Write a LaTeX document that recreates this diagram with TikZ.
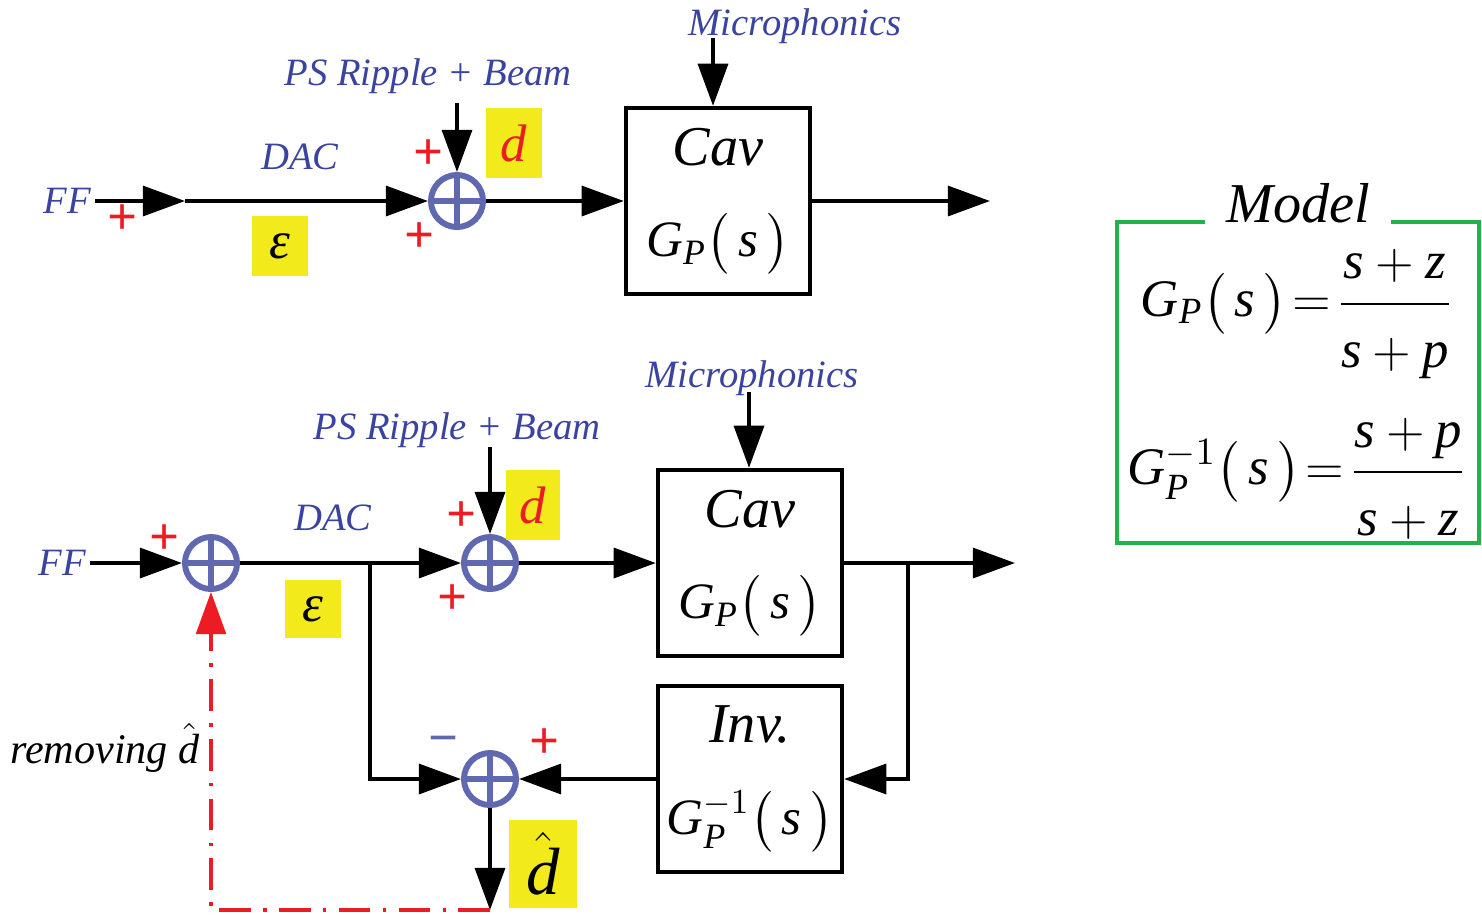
\documentclass[tikz,border=0pt]{standalone}
\usepackage{amsmath}
\usepackage{fontspec}
\setmainfont{Liberation Serif}
\usetikzlibrary{arrows.meta, positioning, calc}
\definecolor{ctrlBlue}{HTML}{3A449E}
\definecolor{ctrlSum}{HTML}{6068B0}
\definecolor{ctrlRed}{HTML}{ED1C24}
\definecolor{ctrlYellow}{HTML}{F2EA1A}
\definecolor{ctrlGreen}{HTML}{22B24C}

\newcommand{\Gp}{\textit{G}_{\textit{P}}}
\newcommand{\GpInv}{\textit{G}_{\textit{P}}^{-1}}
\newcommand{\ofs}{\bigl(\,\textit{s}\,\bigr)}
\newcommand{\boxeq}{\fontsize{14.5}{17}\selectfont}

\begin{document}
\begin{tikzpicture}[
        x=0.01cm, y=-0.01cm,
        sumjunction/.style={
            circle,
            draw=ctrlSum,
            line width=1.7pt,
            minimum size=0.52cm,
            inner sep=0pt,
            path picture={
                \draw[ctrlSum, line width=1.7pt]
                    (path picture bounding box.north) -- (path picture bounding box.south)
                    (path picture bounding box.west) -- (path picture bounding box.east);
            }
        },
        plantbox/.style={
            draw,
            line width=1.2pt,
            minimum width=1.84cm,
            minimum height=1.86cm,
            inner xsep=1pt,
            align=center,
            font=\fontsize{16}{18}\selectfont
        },
        wire/.style={line width=1.1pt},
        signal/.style={
            wire,
            -{Triangle[length=12pt,width=8.5pt]}
        },
        feedback/.style={
            draw=ctrlRed,
            line width=0.9pt,
            dash pattern=on 9pt off 3.5pt on 1pt off 3.5pt,
            -{Triangle[length=12pt,width=8.5pt,fill=ctrlRed]}
        },
        sigtag/.style={
            fill=ctrlYellow,
            inner sep=0pt,
            font=\fontsize{15}{15}\selectfont
        },
        bluelabel/.style={
            text=ctrlBlue,
            inner sep=1pt,
            font=\fontsize{11}{13}\selectfont\itshape
        },
        signmark/.style={
            text=ctrlRed,
            inner sep=0pt,
            font=\fontsize{15}{15}\selectfont\bfseries
        },
        modeleq/.style={
            font=\fontsize{15}{18}\selectfont
        }
    ]

    \useasboundingbox (0,0) rectangle (1482,914);

    % upper loop: feed forward only
    \coordinate (ffAin) at (95,201);
    \coordinate (dacA) at (185,201);
    \node[bluelabel, left=0pt of ffAin] (ffA) {FF};
    \node[sumjunction] (sumA) at (457,201) {};
    \node[plantbox] (cavA) at (718,201) {\textit{Cav}\\[8pt]{\boxeq$\Gp\ofs$}};
    \coordinate (outA) at (990,201);

    \node[bluelabel] (dacAlbl) at (300,157) {DAC};
    \node[sigtag, minimum width=0.55cm, minimum height=0.59cm] (epsA) at (280,246) {\textit{ε}};
    \node[bluelabel] (psA) at (428,76) {\textit{PS Ripple} + \textit{Beam}};
    \coordinate (psAend) at (457,103);
    \node[sigtag, minimum width=0.56cm, minimum height=0.7cm] (dA) at (514,143) {\textcolor{ctrlRed}{\textit{d}}};
    \node[bluelabel] (micA) at (795,26) {Microphonics};
    \coordinate (micAend) at (713,38);

    \node[signmark] (pA1) at (123,220) {+};
    \node[signmark] (pA2) at (429,155) {+};
    \node[signmark] (pA3) at (420,238) {+};

    \draw[signal] (ffAin) -- (dacA);
    \draw[signal] (dacA) -- (sumA);
    \draw[signal] (psAend) -- (sumA);
    \draw[signal] (sumA) -- (cavA);
    \draw[signal] (micAend) -- (micAend |- cavA.north);
    \draw[signal] (cavA) -- (outA);

    % lower loop: disturbance estimate fed back
    \coordinate (ffBin) at (90,563);
    \node[bluelabel, left=0pt of ffBin] (ffB) {FF};
    \node[sumjunction] (sumB1) at (211,563) {};
    \node[sumjunction] (sumB2) at (490,563) {};
    \node[sumjunction] (sumB3) at (490,779) {};
    \node[plantbox] (cavB) at (750,563) {\textit{Cav}\\[8pt]{\boxeq$\Gp\ofs$}};
    \node[plantbox] (invB) at (750,779) {\textit{Inv.}\\[8pt]{\boxeq$\GpInv\ofs$}};
    \coordinate (brL) at (370,563);
    \coordinate (brR) at (908,563);
    \coordinate (outB) at (1015,563);
    \coordinate (dhatEnd) at (490,910);

    \node[bluelabel] (dacBlbl) at (333,518) {DAC};
    \node[sigtag, minimum width=0.55cm, minimum height=0.58cm] (epsB) at (313,609) {\textit{ε}};
    \node[bluelabel] (psB) at (457,430) {\textit{PS Ripple} + \textit{Beam}};
    \coordinate (psBend) at (490,447);
    \node[sigtag, minimum width=0.54cm, minimum height=0.7cm] (dB) at (533,505) {\textcolor{ctrlRed}{\textit{d}}};
    \node[bluelabel] (micB) at (752,378) {Microphonics};
    \coordinate (micBend) at (749,392);
    \node[sigtag, minimum width=0.67cm, minimum height=0.88cm, font=\fontsize{19}{19}\selectfont] (dhat) at (543,864) {$\hat{\textit{d}}$};
    \node[font=\fontsize{12}{14}\selectfont\itshape] (remlbl) at (105,748) {removing $\hat{\textit{d}}$};

    \node[signmark] (pB1) at (165,540) {+};
    \node[signmark] (pB2) at (462,517) {+};
    \node[signmark] (pB3) at (453,600) {+};
    \node[signmark, text=ctrlSum] (mB4) at (444,746) {−};
    \node[signmark] (pB5) at (545,744) {+};

    \draw[signal] (ffBin) -- (sumB1);
    \draw[signal] (sumB1) -- (sumB2);
    \draw[signal] (brL) |- (sumB3);
    \draw[signal] (psBend) -- (sumB2);
    \draw[signal] (sumB2) -- (cavB);
    \draw[signal] (micBend) -- (micBend |- cavB.north);
    \draw[signal] (cavB) -- (outB);
    \draw[signal] (brR) |- (invB);
    \draw[signal] (invB) -- (sumB3);
    \draw[signal] (sumB3) -- (dhatEnd);
    \draw[feedback] (dhatEnd) -| (sumB1);

    % model
    \draw[ctrlGreen, line width=1pt] (1117,222) rectangle (1479,543);
    \node[fill=white, inner xsep=6pt, font=\fontsize{16}{18}\selectfont\itshape] (modeltitle) at (1298,203) {Model};
    \node[modeleq] (eqGp) at (1297,314)
        {$\Gp\ofs\!=\!\dfrac{\textit{s}+\textit{z}\rule[-5pt]{0pt}{5pt}}{\rule{0pt}{16pt}\textit{s}+\textit{p}}$};
    \node[modeleq] (eqGpInv) at (1297,479)
        {$\GpInv\ofs\!=\!\dfrac{\textit{s}+\textit{p}\rule[-5pt]{0pt}{5pt}}{\rule{0pt}{16pt}\textit{s}+\textit{z}}$};

\end{tikzpicture}
\end{document}
